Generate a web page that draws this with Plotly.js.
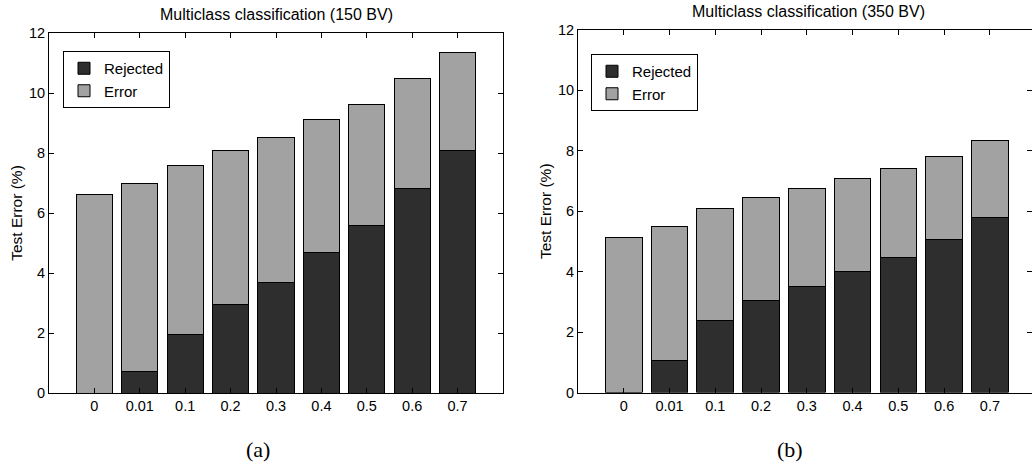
<!DOCTYPE html>
<html>
<head>
<meta charset="utf-8">
<script src="https://cdn.plot.ly/plotly-3.0.1.min.js"></script>
<style>html,body{margin:0;padding:0;background:#fff;}#chart{width:1032px;height:466px;}</style>
</head>
<body>
<div id="chart"></div>
<script>
// Data
var categories = ["0", "0.01", "0.1", "0.2", "0.3", "0.4", "0.5", "0.6", "0.7"];
var rejected150 = [0, 0.73, 1.95, 2.95, 3.69, 4.69, 5.57, 6.83, 8.07];
var error150    = [6.62, 6.25, 5.62, 5.12, 4.84, 4.42, 4.05, 3.64, 3.28];
var rejected350 = [0, 1.07, 2.37, 3.03, 3.50, 3.99, 4.47, 5.06, 5.78];
var error350    = [5.13, 4.42, 3.72, 3.42, 3.26, 3.10, 2.94, 2.75, 2.55];
var yTicks = [0, 2, 4, 6, 8, 10, 12];

var darkColor = "#2e2e2e";
var lightColor = "#a2a2a2";
var fontFam = "Liberation Sans, Arial, Helvetica, sans-serif";

function barTrace(name, y, color, xa, ya, leg) {
  return {
    type: "bar", name: name, x: categories, y: y,
    xaxis: xa, yaxis: ya, legend: leg,
    marker: {color: color, line: {color: "#000", width: 1}},
    hoverinfo: "x+y+name"
  };
}

var data = [
  barTrace("Rejected", rejected150, darkColor, "x", "y", "legend"),
  barTrace("Error", error150, lightColor, "x", "y", "legend"),
  barTrace("Rejected", rejected350, darkColor, "x2", "y2", "legend2"),
  barTrace("Error", error350, lightColor, "x2", "y2", "legend2")
];

function xAxis(domain, range, anchor) {
  return {
    domain: domain, anchor: anchor, type: "category", range: range,
    showline: true, linecolor: "#000", linewidth: 1, mirror: "ticks",
    ticks: "inside", ticklen: 5, tickcolor: "#000",
    showgrid: false, zeroline: false, fixedrange: true,
    tickfont: {family: fontFam, size: 14.5, color: "#000"}
  };
}
function yAxis(domain, anchor) {
  return {
    domain: domain, anchor: anchor, range: [0, 12],
    tickvals: yTicks, ticktext: yTicks.map(String),
    showline: true, linecolor: "#000", linewidth: 1, mirror: "ticks",
    ticks: "inside", ticklen: 5, tickcolor: "#000",
    showgrid: false, zeroline: false, fixedrange: true,
    tickfont: {family: fontFam, size: 14.5, color: "#000"},
    title: {text: "Test Error (%)", font: {family: fontFam, size: 15.5, color: "#000"}, standoff: 2}
  };
}

var legendBase = {
  xanchor: "left", yanchor: "top",
  bordercolor: "#000", borderwidth: 1, bgcolor: "#fff",
  font: {family: fontFam, size: 15, color: "#000"},
  traceorder: "normal", itemwidth: 30, tracegroupgap: 0
};

var layout = {
  width: 1032, height: 466,
  margin: {l: 0, r: 0, t: 0, b: 0},
  paper_bgcolor: "#fff", plot_bgcolor: "#fff",
  barmode: "stack", bargap: 0.2,
  showlegend: true,
  xaxis: xAxis([49/1032, 503/1032], [-1, 9], "y"),
  yaxis: yAxis([73/466, 433/466], "x"),
  xaxis2: xAxis([578/1032, 1], [-1, 8.92], "y2"),
  yaxis2: yAxis([73.5/466, 436/466], "x2"),
  legend: Object.assign({x: 63/1032, y: 1 - 51/466}, legendBase),
  legend2: Object.assign({x: 591/1032, y: 1 - 54/466}, legendBase),
  annotations: [
    {text: "Multiclass classification (150 BV)", x: 276/1032, y: 1 - 15/466, xref: "paper", yref: "paper",
     xanchor: "center", yanchor: "middle", showarrow: false, font: {family: fontFam, size: 16, color: "#000"}},
    {text: "Multiclass classification (350 BV)", x: 808/1032, y: 1 - 11/466, xref: "paper", yref: "paper",
     xanchor: "center", yanchor: "middle", showarrow: false, font: {family: fontFam, size: 16, color: "#000"}},
    {text: "(a)", x: 258/1032, y: 1 - 449/466, xref: "paper", yref: "paper",
     xanchor: "center", yanchor: "middle", showarrow: false, font: {family: "Liberation Serif, DejaVu Serif, serif", size: 22, color: "#000"}},
    {text: "(b)", x: 790/1032, y: 1 - 449/466, xref: "paper", yref: "paper",
     xanchor: "center", yanchor: "middle", showarrow: false, font: {family: "Liberation Serif, DejaVu Serif, serif", size: 22, color: "#000"}}
  ]
};

Plotly.newPlot("chart", data, layout, {staticPlot: true, displayModeBar: false});
</script>
</body>
</html>
